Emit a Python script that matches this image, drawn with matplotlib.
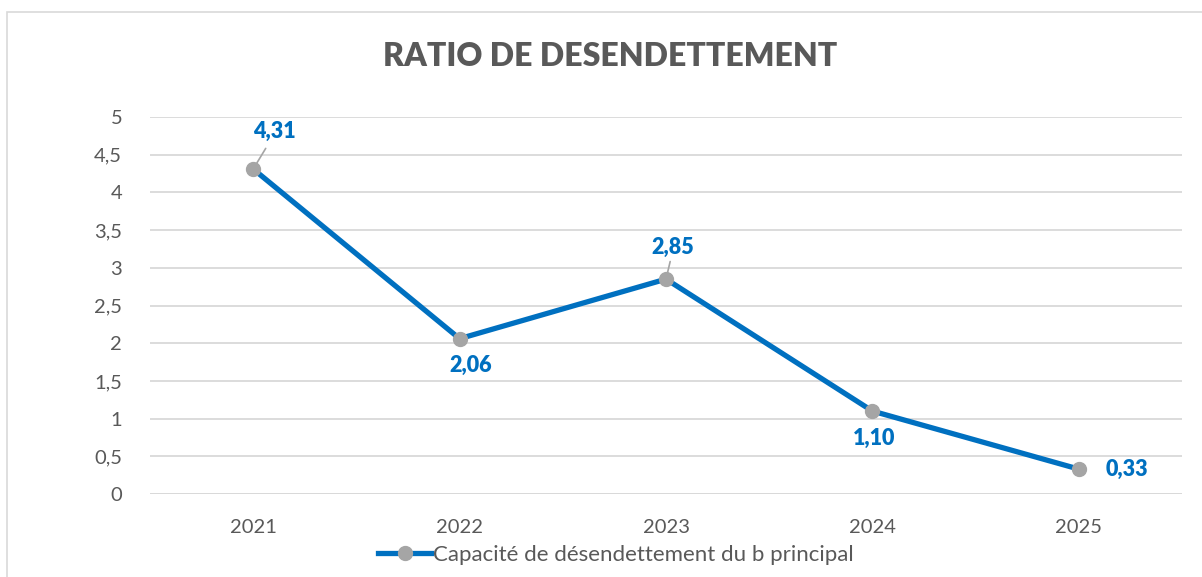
import matplotlib
matplotlib.use("Agg")
import matplotlib.pyplot as plt
from matplotlib.patches import Rectangle
from matplotlib.lines import Line2D

years = ["2021", "2022", "2023", "2024", "2025"]
values = [4.31, 2.06, 2.85, 1.10, 0.33]
labels = ["4,31", "2,06", "2,85", "1,10", "0,33"]
yticks = [0, 0.5, 1, 1.5, 2, 2.5, 3, 3.5, 4, 4.5, 5]
ytick_labels = ["0", "0,5", "1", "1,5", "2", "2,5", "3", "3,5", "4", "4,5", "5"]
series_name = "Capacité de désendettement du b principal"
title = "RATIO DE DESENDETTEMENT"

plt.rcParams['font.family'] = ['Lato', 'DejaVu Sans']

W, H = 1202, 577
fig = plt.figure(figsize=(W / 100, H / 100), dpi=100)
left, right, top, bottom = 150, 1182, 117, 494
ax = fig.add_axes([left / W, 1 - bottom / H, (right - left) / W, (bottom - top) / H])

blue = "#0070C0"
grey_m = "#A5A5A5"
txt = "#595959"

x = list(range(len(years)))
ax.plot(x, values, color=blue, lw=3.8, marker='o', markersize=10,
        markerfacecolor=grey_m, markeredgecolor=grey_m, zorder=3,
        solid_capstyle='round')

ax.set_xlim(-0.5, len(years) - 0.5)
ax.set_ylim(0, 5)
ax.set_yticks(yticks)
ax.set_yticklabels(ytick_labels)
ax.set_xticks(x)
ax.set_xticklabels(years)
ax.tick_params(axis='both', length=0, labelsize=14.5, labelcolor=txt)
ax.tick_params(axis='y', pad=20)
ax.tick_params(axis='x', pad=18)
ax.grid(axis='y', color='#D9D9D9', lw=1.3)
ax.set_axisbelow(True)
for s in ax.spines.values():
    s.set_visible(False)
ax.axhline(0, color='#D9D9D9', lw=1.3, zorder=1)

offsets = [(15, 27), (8, -19), (5, 23), (1, -20), (35, 0)]
leaders = [True, False, True, False, False]
for xi, v, lab, off, ld in zip(x, values, labels, offsets, leaders):
    ax.annotate(lab, (xi, v), xytext=off, textcoords='offset points',
                ha='center', va='center', color=blue, fontsize=15.5,
                fontweight='heavy', zorder=5)
    if ld:
        ax.annotate("", (xi, v), xytext=(off[0] * 0.6, off[1] * 0.55),
                    textcoords='offset points',
                    arrowprops=dict(arrowstyle='-', color='#A5A5A5', lw=1.2,
                                    shrinkA=0, shrinkB=4), zorder=2)

fig.text(610 / W, 1 - 57 / H, title, ha='center', va='center',
         fontsize=23, fontweight='heavy', color=txt)

h = Line2D([0], [0], color=blue, lw=3.8, marker='o', markersize=10,
           markerfacecolor=grey_m, markeredgecolor=grey_m)
fig.legend([h], [series_name], loc='center', bbox_to_anchor=(616 / W, 1 - 555 / H),
           frameon=False, fontsize=16, labelcolor=txt, handlelength=2.4,
           handletextpad=0.1)

fig.patches.append(Rectangle((7 / W, -0.1), 1.2, 1 - 12 / H + 0.1,
                             transform=fig.transFigure, fill=False,
                             edgecolor='#D9D9D9', lw=1.2))

fig.savefig("out.png", dpi=100, facecolor='white')
